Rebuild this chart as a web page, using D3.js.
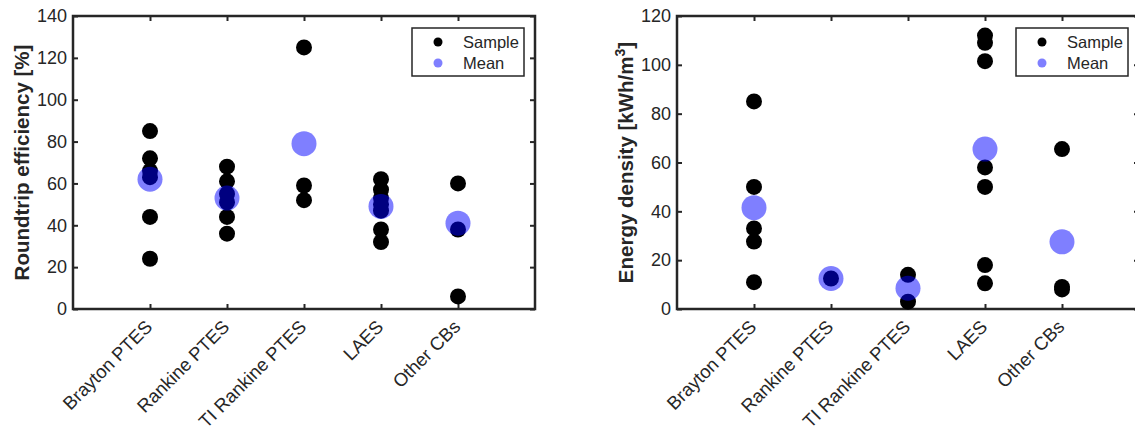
<!DOCTYPE html>
<html>
<head>
<meta charset="utf-8">
<script src="https://cdn.jsdelivr.net/npm/d3@7"></script>
<style>
  body { margin: 0; background: #fff; }
  text { font-family: "Liberation Sans", Arial, sans-serif; fill: #262626; }
</style>
</head>
<body>
<div id="chart"></div>
<script>
// categories and values
const categories = ["Brayton PTES", "Rankine PTES", "TI Rankine PTES", "LAES", "Other CBs"]

const effSamples = [
  [85, 72, 66, 63, 44, 24],
  [68, 61, 55, 51, 44, 36],
  [125, 59, 52],
  [62, 57, 53, 50, 47, 38, 32],
  [60, 38, 6]
]
const effMeans = [62, 53, 79, 49, 41]
const effTicks = [0, 20, 40, 60, 80, 100, 120, 140]

const denSamples = [
  [85, 50, 33, 27.6, 11],
  [12.5],
  [14, 3],
  [112, 109, 101.5, 58, 50, 18, 10.5],
  [65.5, 9, 8]
]
const denMeans = [41.5, 12.5, 8.5, 65.5, 27.5]
const denTicks = [0, 20, 40, 60, 80, 100, 120]

const w = 1135
const h = 431
const plotTop = 16, plotBottom = 309

const svg = d3.select("#chart").append("svg")
  .attr("width", w)
  .attr("height", h)

function panel(left, right, samples, means, ticks, ymax, label, sup, labelX) {
  const g = svg.append("g")

  const x = d3.scaleLinear().domain([0, 6]).range([left, right])
  const y = d3.scaleLinear().domain([0, ymax]).range([plotBottom, plotTop])
  const pos = categories.map((c, i) => i + 1)

  // axes with inward ticks
  g.append("g")
    .attr("transform", "translate(" + left + ",0)")
    .call(d3.axisLeft(y).tickValues(ticks).tickSizeInner(-5).tickSizeOuter(0).tickPadding(6))
    .call(a => a.select(".domain").remove())
    .call(a => a.selectAll("text").attr("font-size", "18px").attr("fill", "#262626").attr("font-family", null))
  g.append("g")
    .attr("transform", "translate(" + right + ",0)")
    .call(d3.axisRight(y).tickValues(ticks).tickSizeInner(-5).tickSizeOuter(0).tickFormat(""))
    .call(a => a.select(".domain").remove())
  g.append("g")
    .attr("transform", "translate(0," + plotTop + ")")
    .call(d3.axisTop(x).tickValues(pos).tickSizeInner(-5).tickSizeOuter(0).tickFormat(""))
    .call(a => a.select(".domain").remove())
  g.append("g")
    .attr("transform", "translate(0," + plotBottom + ")")
    .call(d3.axisBottom(x).tickValues(pos).tickSizeInner(-5).tickSizeOuter(0)
      .tickFormat(d => categories[d - 1]))
    .call(a => a.select(".domain").remove())
    .call(a => a.selectAll("text")
      .attr("font-size", "18.5px").attr("fill", "#262626").attr("font-family", null)
      .attr("text-anchor", "end")
      .attr("x", 0).attr("y", 0).attr("dy", null)
      .attr("transform", "translate(3,19) rotate(-45)"))
  g.selectAll(".tick line").attr("stroke", "#262626").attr("stroke-width", 2)

  // box
  g.append("rect")
    .attr("x", left).attr("y", plotTop)
    .attr("width", right - left).attr("height", plotBottom - plotTop)
    .attr("fill", "none").attr("stroke", "#262626").attr("stroke-width", 2.5)

  // samples
  const pts = []
  samples.forEach((s, i) => s.forEach(v => pts.push({c: i + 1, v: v})))
  g.append("g").selectAll("circle")
    .data(pts)
    .enter().append("circle")
    .attr("cx", d => x(d.c))
    .attr("cy", d => y(d.v))
    .attr("r", 8)
    .attr("fill", "black")

  // means (semi-transparent blue)
  g.append("g").selectAll("circle")
    .data(means)
    .enter().append("circle")
    .attr("cx", (d, i) => x(i + 1))
    .attr("cy", d => y(d))
    .attr("r", 12.5)
    .attr("fill", "blue")
    .attr("fill-opacity", 0.5)

  // y label
  const t = g.append("text")
    .attr("transform", "translate(" + labelX + "," + ((plotTop + plotBottom) / 2) + ") rotate(-90)")
    .attr("text-anchor", "middle")
    .attr("font-size", "20.5px")
    .attr("font-weight", "bold")
  t.append("tspan").text(label)
  if (sup) {
    t.append("tspan").attr("dy", -8).attr("font-size", "14px").text(sup)
    t.append("tspan").attr("dy", 8).text("]")
  }

  // legend
  const lx = right - 11 - 112, ly = 28
  const lg = g.append("g")
  lg.append("rect")
    .attr("x", lx).attr("y", ly).attr("width", 112).attr("height", 48)
    .attr("fill", "white").attr("stroke", "#262626").attr("stroke-width", 1.5)
  const items = [{name: "Sample", fill: "black", op: 1}, {name: "Mean", fill: "blue", op: 0.5}]
  items.forEach((d, i) => {
    lg.append("circle")
      .attr("cx", lx + 26).attr("cy", ly + 14 + i * 21)
      .attr("r", 4.5).attr("fill", d.fill).attr("fill-opacity", d.op)
    lg.append("text")
      .attr("x", lx + 51).attr("y", ly + 14 + i * 21)
      .attr("dy", "0.36em")
      .attr("font-size", "16.5px")
      .text(d.name)
  })
}

panel(73, 535, effSamples, effMeans, effTicks, 140, "Roundtrip efficiency [%]", null, 29)
panel(677, 1139, denSamples, denMeans, denTicks, 120, "Energy density [kWh/m", "3", 633)
</script>
</body>
</html>
